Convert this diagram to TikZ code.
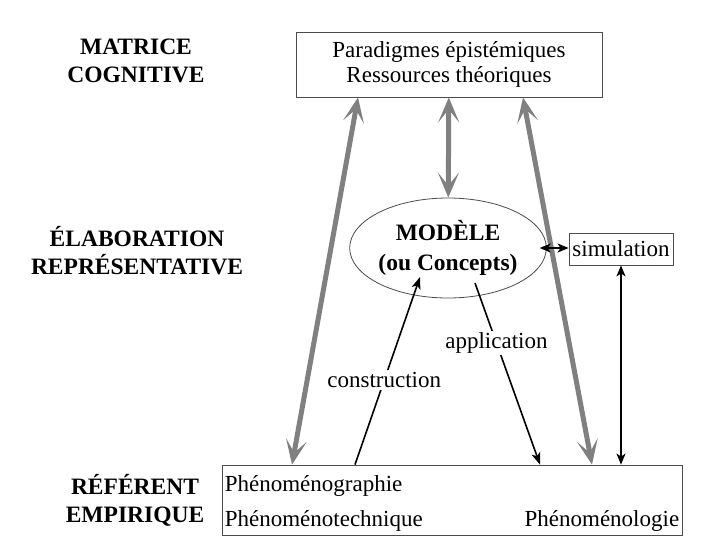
\documentclass[tikz,border=0pt]{standalone}
\usepackage{fontspec}
\setmainfont{Liberation Serif}
\usepackage{tikz}
\usetikzlibrary{shapes,arrows.meta}
\tikzstyle{rec} = [rectangle,draw=black!70,line width=0.8pt,text centered,inner sep=0pt]

\begin{document}
\begin{tikzpicture}
		[x=1pt,y=-1pt,
		font=\fontsize{23}{25}\selectfont,
		level/.style={
		font=\fontsize{23.5}{28}\selectfont\bfseries,
		align=center},
		txt/.style={inner sep=0pt},
		big/.style={
		draw=black!50,
		line width=5pt,
		{Stealth[length=25pt,width=21pt,inset=13pt]}-{Stealth[length=25pt,width=21pt,inset=13pt]}},
		fleche/.style={
		draw=black,
		line width=1.6pt,
		-{Stealth[length=12pt,width=9pt,inset=3pt]}},
		dfleche/.style={
		fleche,
		{Stealth[length=11pt,width=9pt,inset=3pt]}-{Stealth[length=11pt,width=9pt,inset=3pt]}},
		lbl/.style={fill=white,inner sep=2pt}
		]
		\useasboundingbox (0,0) rectangle (721,558);
		% niveaux
		\node[level](matrice_lvl) at (136,61) {MATRICE\\COGNITIVE};
		\node[level](elab_lvl) at (137,251) {ÉLABORATION\\REPRÉSENTATIVE};
		\node[level](ref_lvl) at (135,500) {RÉFÉRENT\\EMPIRIQUE};
		% boites
		\node[rec,minimum width=306pt,minimum height=65pt,align=center](matrice) at (449,64.5) {Paradigmes épistémiques\\Ressources théoriques};
		\node[ellipse,draw=black!70,line width=0.8pt,minimum width=174pt,minimum height=100pt,inner sep=0pt,align=center,font=\fontsize{23.5}{30}\selectfont\bfseries](modele) at (448,248) {MODÈLE\\(ou Concepts)};
		\node[rec,minimum width=104pt,minimum height=32pt](simulation) at (621,249) {simulation};
		\node[rec,minimum width=460pt,minimum height=70pt](referent) at (452,500) {};
		\node[txt,anchor=base west](graphie) at ([shift={(3,27)}]referent.north west) {Phénoménographie};
		\node[txt,anchor=base west](technique) at ([shift={(3,62)}]referent.north west) {Phénoménotechnique};
		\node[txt,anchor=base east](logie) at ([shift={(-3,62)}]referent.north east) {Phénoménologie};
		% fleches grises
		\draw[big] ([xshift=-91pt]matrice.south) -- ([xshift=-160pt]referent.north);
		\draw[big] (matrice) -- (modele);
		\draw[big] ([xshift=74pt]matrice.south) -- ([xshift=140pt]referent.north);
		% fleches noires
		\draw[dfleche] ([xshift=-7pt]modele.east) -- (simulation.west |- modele.east);
		\draw[dfleche] (simulation.south) -- (simulation.south |- referent.north);
		\draw[fleche] ([xshift=-97pt]referent.north) -- node[lbl,pos=0.45]{construction} ([shift={(-28,29)}]modele.center);
		\draw[fleche] ([shift={(27,35)}]modele.center) -- node[lbl,pos=0.33]{application} ([xshift=88pt]referent.north);
		\end{tikzpicture}
\end{document}
